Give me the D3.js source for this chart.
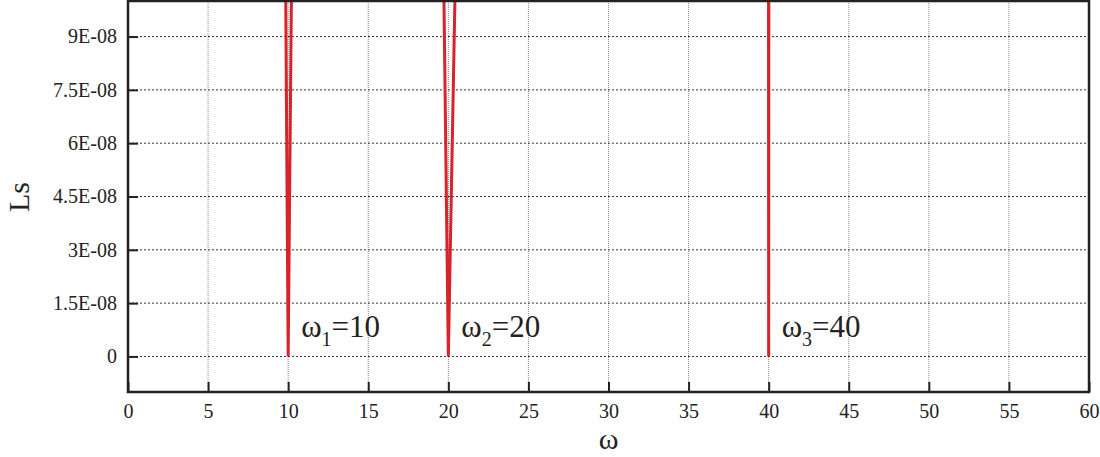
<!DOCTYPE html>
<html>
<head>
<meta charset="utf-8">
<script src="https://cdn.jsdelivr.net/npm/d3@7"></script>
<style>
  body { margin: 0; background: #fff; }
  text { font-family: "Liberation Serif", "DejaVu Serif", serif; fill: #222; }
</style>
</head>
<body>
<div class="chart"></div>
<script>
// curve: three narrow dips, everything else is off the top
var omega = [9.835, 10.0, 10.22, 15.0, 19.7, 20.0, 20.45, 30.0, 39.99, 40.0, 40.01];
var ls = [1.1e-7, 0, 1.1e-7, 5e-7, 1.1e-7, 0, 1.1e-7, 5e-7, 1.1e-7, 0, 1.1e-7];

var xTicks = [0, 5, 10, 15, 20, 25, 30, 35, 40, 45, 50, 55, 60];
var yTicks = [0, 1.5e-8, 3e-8, 4.5e-8, 6e-8, 7.5e-8, 9e-8];
var yTickLabels = ["0", "1.5E-08", "3E-08", "4.5E-08", "6E-08", "7.5E-08", "9E-08"];

var markOmega = [10, 20, 40];
var markSub = ["1", "2", "3"];
var markText = ["=10", "=20", "=40"];

var width = 1100, height = 457;
var plotLeft = 128, plotRight = 1089, plotTop = 1, plotBottom = 392;

var svg = d3.select(".chart")
    .append("svg")
    .attr("width", width)
    .attr("height", height);

var x = d3.scaleLinear().domain([0, 60]).range([plotLeft, plotRight]);
var y = d3.scaleLinear().domain([-1e-8, 1e-7]).range([plotBottom, plotTop]);

// grid
svg.append("g").selectAll("line")
    .data(xTicks.slice(1, -1))
    .enter().append("line")
    .attr("x1", function(d) { return x(d); })
    .attr("x2", function(d) { return x(d); })
    .attr("y1", plotTop)
    .attr("y2", plotBottom)
    .style("stroke", "#888")
    .style("stroke-width", 1)
    .style("stroke-dasharray", "1,1");

svg.append("g").selectAll("line")
    .data(yTicks)
    .enter().append("line")
    .attr("x1", plotLeft)
    .attr("x2", plotRight)
    .attr("y1", function(d) { return y(d); })
    .attr("y2", function(d) { return y(d); })
    .style("stroke", "#333")
    .style("stroke-width", 1)
    .style("stroke-dasharray", "2,2");

// curve
svg.append("clipPath").attr("id", "plot")
    .append("rect")
    .attr("x", plotLeft).attr("y", plotTop)
    .attr("width", plotRight - plotLeft).attr("height", plotBottom - plotTop);

var pts = omega.map(function(d, i) { return [d, ls[i]]; });
var line = d3.line()
    .x(function(d) { return x(d[0]); })
    .y(function(d) { return y(d[1]); });

svg.append("path")
    .datum(pts)
    .attr("clip-path", "url(#plot)")
    .attr("d", line)
    .style("fill", "none")
    .style("stroke", "#d7232b")
    .style("stroke-width", 3)
    .style("stroke-linejoin", "miter");

// axes, ticks pointing in
var xAxis = svg.append("g")
    .attr("transform", "translate(0," + plotBottom + ")")
    .call(d3.axisBottom(x).tickValues(xTicks).tickSizeInner(-10).tickSizeOuter(0).tickPadding(12));
var yAxis = svg.append("g")
    .attr("transform", "translate(" + plotLeft + ",0)")
    .call(d3.axisLeft(y).tickValues(yTicks)
        .tickFormat(function(d, i) { return yTickLabels[i]; })
        .tickSizeInner(-10).tickSizeOuter(0).tickPadding(11));

[xAxis, yAxis].forEach(function(a) {
    a.select(".domain").remove();
    a.selectAll(".tick line").style("stroke", "#222").style("stroke-width", 2);
    a.selectAll(".tick text")
        .style("font-family", "Liberation Serif")
        .style("font-size", "20px")
        .style("fill", "#222");
});

svg.append("rect")
    .attr("x", plotLeft).attr("y", plotTop)
    .attr("width", plotRight - plotLeft).attr("height", plotBottom - plotTop)
    .style("fill", "none")
    .style("stroke", "#222")
    .style("stroke-width", 2.5);

// axis titles
svg.append("text")
    .attr("transform", "translate(29,197) rotate(-90)")
    .attr("text-anchor", "middle")
    .style("font-size", "30px")
    .text("Ls");

svg.append("text")
    .attr("x", (plotLeft + plotRight) / 2)
    .attr("y", 449)
    .attr("text-anchor", "middle")
    .style("font-size", "30px")
    .text("ω");

// root labels
var marks = svg.append("g").selectAll("text")
    .data(markOmega)
    .enter().append("text")
    .attr("x", function(d) { return x(d) + 13; })
    .attr("y", 337)
    .style("font-size", "31px");

marks.append("tspan").text("ω");
marks.append("tspan")
    .attr("dy", 9)
    .style("font-size", "20px")
    .text(function(d, i) { return markSub[i]; });
marks.append("tspan")
    .attr("dy", -9)
    .text(function(d, i) { return markText[i]; });
</script>
</body>
</html>
